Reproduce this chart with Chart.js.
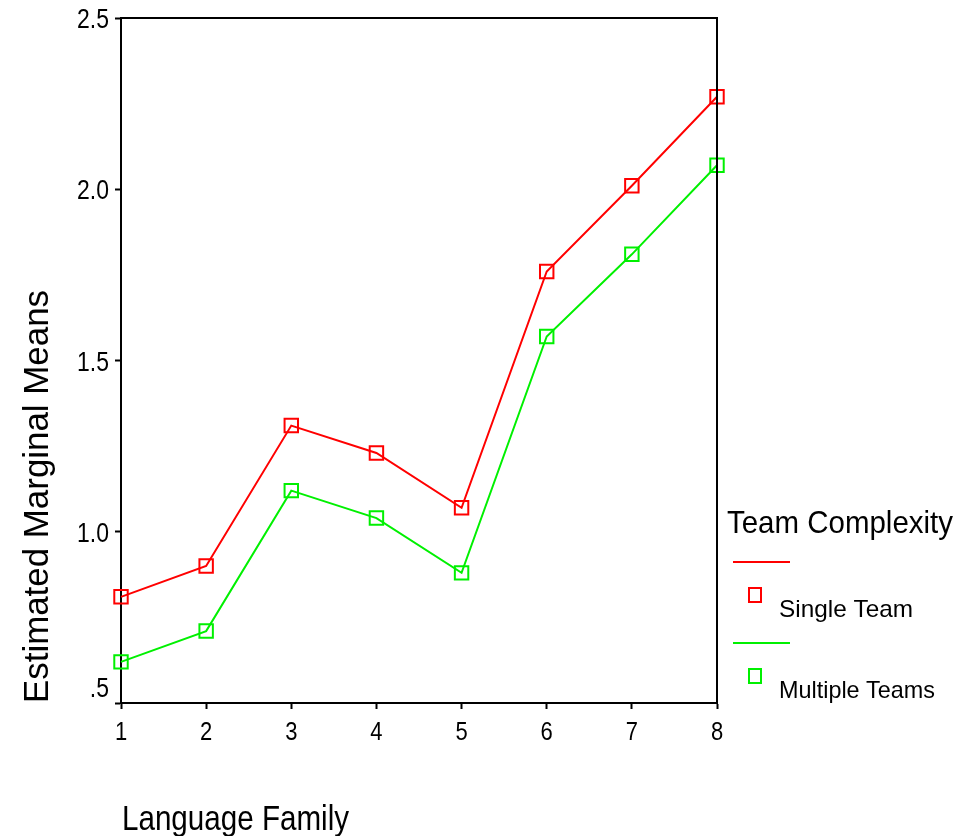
<!DOCTYPE html>
<html>
<head>
<meta charset="utf-8">
<title>Estimated Marginal Means</title>
<script src="https://cdn.jsdelivr.net/npm/chart.js@4.4.0/dist/chart.umd.min.js"></script>
<style>
  html, body { margin: 0; padding: 0; background: #fff; }
  canvas { display: block; }
</style>
</head>
<body>
<canvas id="myChart" width="974" height="836"></canvas>
<script>
// data
const families = ['1', '2', '3', '4', '5', '6', '7', '8'];
const singleTeam = [0.81, 0.90, 1.31, 1.23, 1.07, 1.76, 2.01, 2.27];
const multipleTeams = [0.62, 0.71, 1.12, 1.04, 0.88, 1.57, 1.81, 2.07];
const yTicks = [0.5, 1.0, 1.5, 2.0, 2.5];
const yTickLabels = ['.5', '1.0', '1.5', '2.0', '2.5'];
const seriesNames = ['Single Team', 'Multiple Teams'];
const seriesColors = ['#ff0000', '#00f000'];

const FONT = '"Liberation Sans", Arial, sans-serif';

// draws text squeezed horizontally, like the old SPSS output
function squeezeText(ctx, text, x, y, size, opts) {
    ctx.save();
    ctx.font = size + 'px ' + FONT;
    ctx.fillStyle = '#000';
    ctx.textBaseline = 'alphabetic';
    const w = ctx.measureText(text).width;
    const sx = opts.width ? opts.width / w : (opts.scale || 1);
    ctx.translate(x, y);
    if (opts.rotate) ctx.rotate(opts.rotate);
    ctx.scale(sx, 1);
    ctx.textAlign = opts.align || 'left';
    ctx.fillText(text, 0, 0);
    ctx.restore();
}

const textPlugin = {
    id: 'spssText',
    afterDraw(chart) {
        const ctx = chart.ctx;
        const area = chart.chartArea;
        const xs = chart.scales.x;
        const ys = chart.scales.y;

        // top and right frame
        ctx.save();
        ctx.strokeStyle = '#000';
        ctx.lineWidth = 2;
        ctx.beginPath();
        ctx.moveTo(area.left, area.top);
        ctx.lineTo(area.right, area.top);
        ctx.lineTo(area.right, area.bottom);
        ctx.stroke();
        ctx.restore();

        // y tick labels
        yTicks.forEach((v, i) => {
            let y = ys.getPixelForValue(v) + 10;
            if (v === ys.min) y -= 16;
            squeezeText(ctx, yTickLabels[i], area.left - 12, y, 28, { scale: 0.82, align: 'right' });
        });

        // x tick labels
        families.forEach((f, i) => {
            squeezeText(ctx, f, xs.getPixelForValue(i), area.bottom + 37, 25, { scale: 0.88, align: 'center' });
        });

        // axis titles
        squeezeText(ctx, 'Language Family', 122, 830, 35, { width: 227 });
        squeezeText(ctx, 'Estimated Marginal Means', 48, 703, 35, { width: 413, rotate: -Math.PI / 2 });

        // legend
        squeezeText(ctx, 'Team Complexity', 727, 533, 32, { width: 226 });
        const rows = [562, 643];
        const labelWidths = [134, 156];
        seriesNames.forEach((name, i) => {
            const y0 = rows[i];
            ctx.save();
            ctx.strokeStyle = seriesColors[i];
            ctx.lineWidth = 2;
            ctx.beginPath();
            ctx.moveTo(733, y0);
            ctx.lineTo(790, y0);
            ctx.stroke();
            ctx.strokeRect(749, y0 + 26, 12, 14);
            ctx.restore();
            squeezeText(ctx, name, 779, y0 + 55, 24, { width: labelWidths[i] });
        });
    }
};

const ctx = document.getElementById('myChart').getContext('2d');
new Chart(ctx, {
    type: 'line',
    data: {
        labels: families,
        datasets: [
            {
                label: seriesNames[0],
                data: singleTeam,
                borderColor: seriesColors[0],
                borderWidth: 2,
                pointStyle: 'rect',
                pointRadius: 9.5,
                pointBorderWidth: 2,
                pointBorderColor: seriesColors[0],
                pointBackgroundColor: 'rgba(0,0,0,0)',
                tension: 0,
                clip: false
            },
            {
                label: seriesNames[1],
                data: multipleTeams,
                borderColor: seriesColors[1],
                borderWidth: 2,
                pointStyle: 'rect',
                pointRadius: 9.5,
                pointBorderWidth: 2,
                pointBorderColor: seriesColors[1],
                pointBackgroundColor: 'rgba(0,0,0,0)',
                tension: 0,
                clip: false
            }
        ]
    },
    options: {
        responsive: false,
        animation: false,
        layout: {
            padding: { left: 0, top: 18, right: 257, bottom: 0 }
        },
        plugins: {
            legend: { display: false },
            title: { display: false },
            tooltip: { enabled: false }
        },
        scales: {
            x: {
                type: 'category',
                offset: false,
                grid: {
                    offset: false,
                    drawOnChartArea: false,
                    drawTicks: true,
                    tickLength: 6,
                    tickColor: '#000',
                    tickWidth: 2
                },
                border: { display: true, color: '#000', width: 2 },
                ticks: { color: 'rgba(0,0,0,0)', font: { size: 10 }, maxRotation: 0, autoSkip: false },
                afterFit(scale) { scale.height = 133; }
            },
            y: {
                min: 0.5,
                max: 2.5,
                grid: {
                    drawOnChartArea: false,
                    drawTicks: true,
                    tickLength: 6,
                    tickColor: '#000',
                    tickWidth: 2
                },
                border: { display: true, color: '#000', width: 2 },
                ticks: { stepSize: 0.5, color: 'rgba(0,0,0,0)', font: { size: 10 } },
                afterFit(scale) { scale.width = 121; }
            }
        }
    },
    plugins: [textPlugin]
});
</script>
</body>
</html>
